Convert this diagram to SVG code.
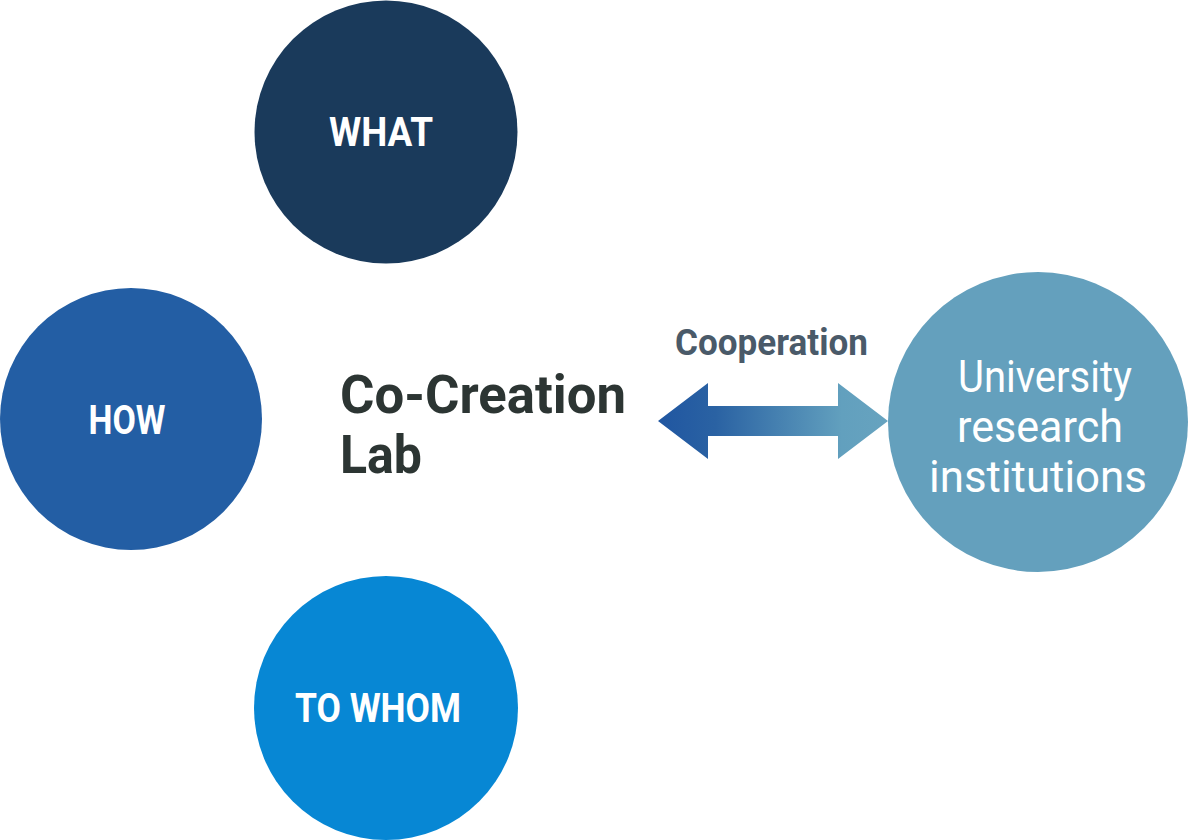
<svg xmlns="http://www.w3.org/2000/svg" width="1188" height="840" viewBox="0 0 1188 840">
<defs>
<linearGradient id="arrowGrad" x1="658" y1="0" x2="888" y2="0" gradientUnits="userSpaceOnUse">
<stop offset="0" stop-color="#2056a1"/>
<stop offset="0.25" stop-color="#2a62a3"/>
<stop offset="0.8" stop-color="#62a0be"/>
<stop offset="1" stop-color="#67a3bf"/>
</linearGradient>
</defs>
<style>
.lbl{font-family:Roboto,"Liberation Sans",sans-serif;font-weight:700;fill:#ffffff;text-anchor:middle}
.uni{font-family:Roboto,"Liberation Sans",sans-serif;font-weight:400;fill:#ffffff;text-anchor:middle;font-size:45px}
.title{font-family:Roboto,"Liberation Sans",sans-serif;font-weight:700;fill:#2c3533;font-size:54px}
.coop{font-family:Roboto,"Liberation Sans",sans-serif;font-weight:700;fill:#4a5a69;font-size:37px}
</style>
<rect width="1188" height="840" fill="#ffffff"/>
<g id="what">
<circle cx="386" cy="132" r="131.5" fill="#1a3a5b"/>
<text class="lbl" x="381" y="146" font-size="40" textLength="104" lengthAdjust="spacingAndGlyphs">WHAT</text>
</g>
<g id="how">
<circle cx="131" cy="419" r="131" fill="#235ea4"/>
<text class="lbl" x="127" y="434" font-size="40" textLength="77" lengthAdjust="spacingAndGlyphs">HOW</text>
</g>
<g id="towhom">
<circle cx="386" cy="708" r="132" fill="#0787d4"/>
<text class="lbl" x="378" y="722" font-size="40" textLength="166" lengthAdjust="spacingAndGlyphs">TO WHOM</text>
</g>
<g id="colab">
<text class="title" x="340" y="413" textLength="286" lengthAdjust="spacingAndGlyphs">Co-Creation</text>
<text class="title" x="340" y="473" textLength="82" lengthAdjust="spacingAndGlyphs">Lab</text>
</g>
<g id="university">
<circle cx="1038" cy="422" r="150" fill="#64a0bd"/>
<text class="uni" x="1045" y="392" textLength="174" lengthAdjust="spacingAndGlyphs">University</text>
<text class="uni" x="1040" y="442" textLength="166" lengthAdjust="spacingAndGlyphs">research</text>
<text class="uni" x="1038" y="492" textLength="218" lengthAdjust="spacingAndGlyphs">institutions</text>
</g>
<g id="connectors">
<polygon points="658,421 708,383 708,406 838,406 838,383 888,421 838,459 838,436 708,436 708,459" fill="url(#arrowGrad)"/>
<text class="coop" x="675" y="355" textLength="193" lengthAdjust="spacingAndGlyphs">Cooperation</text>
</g>
</svg>
